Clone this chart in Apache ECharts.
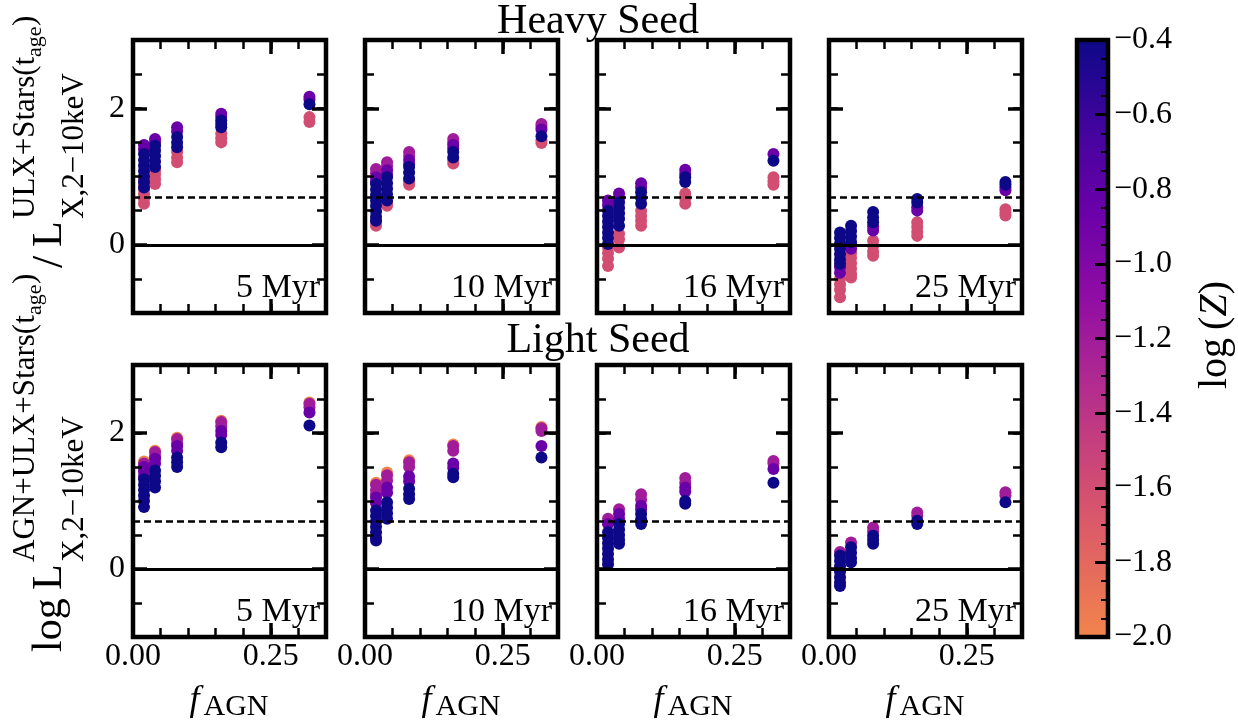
<!DOCTYPE html>
<html>
<head>
<meta charset="utf-8">
<title>AGN X-ray excess vs f_AGN</title>
<script src="https://cdn.jsdelivr.net/npm/echarts@6.0.0/dist/echarts.min.js"></script>
<style>
  html, body { margin: 0; padding: 0; background: #fff; }
  #chart { width: 1238px; height: 721px; }
</style>
</head>
<body>
<div id="chart"></div>
<script>
// AGN fraction of each model column
const fAGN = [0.02, 0.04, 0.08, 0.16, 0.32];

// one row per metallicity: [log Z, values at fAGN 0.02, 0.04, 0.08, 0.16, 0.32]
// values = log L_X(AGN+ULX+Stars) / L_X(ULX+Stars)
const heavy5Myr = [
  [-1.6, [0.60, 0.67, 0.74, 0.81, 0.88, 0.95], [0.89, 0.96, 1.03, 1.09], [1.21, 1.28, 1.36], [1.50, 1.56, 1.63], [1.80, 1.87]],
  [-0.85, [1.46, 1.40], [1.55, 1.50], [1.72, 1.66], [1.92, 1.87], [2.17, 2.13]],
  [-0.4, [0.84, 0.92, 1.00, 1.08, 1.16, 1.24, 1.33], [1.14, 1.22, 1.30, 1.38, 1.45], [1.43, 1.50, 1.58], [1.72, 1.77, 1.82], [2.06]]
];
const heavy10Myr = [
  [-1.6, [0.28, 0.34], [0.57, 0.62], [0.88, 0.93], [1.19, 1.24], [1.49, 1.53]],
  [-1.2, [1.11, 1.05], [1.21, 1.15], [1.36, 1.30], [1.55, 1.50], [1.77, 1.73]],
  [-0.85, [0.99, 0.93], [1.09, 1.03], [1.24, 1.18], [1.46, 1.41], [1.69]],
  [-0.4, [0.89, 0.81, 0.73, 0.65, 0.57, 0.49, 0.41, 0.35], [0.99, 0.90, 0.82, 0.74, 0.65], [1.14, 1.06, 0.97], [1.36, 1.28], [1.59]]
];
const heavy16Myr = [
  [-1.6, [-0.04, -0.12, -0.20, -0.31], [0.16, 0.08, -0.04], [0.50, 0.42, 0.35, 0.28], [0.75, 0.68, 0.60], [0.99, 0.93, 0.88]],
  [-0.85, [0.65, 0.58], [0.75, 0.68], [0.90, 0.84], [1.10, 1.04], [1.33]],
  [-0.4, [0.50, 0.42, 0.34, 0.26, 0.18, 0.10, 0.01], [0.62, 0.54, 0.46, 0.38, 0.28], [0.77, 0.69, 0.60], [0.99, 0.92], [1.23]]
];
const heavy25Myr = [
  [-1.6, [-0.50, -0.58, -0.66, -0.77], [-0.12, -0.19, -0.27, -0.35, -0.43, -0.48], [0.06, -0.02, -0.10, -0.16], [0.33, 0.26, 0.19, 0.13], [0.52, 0.47, 0.43]],
  [-0.85, [-0.41, -0.33], [-0.06, 0.00], [0.21, 0.27], [0.50, 0.55], [0.80, 0.84]],
  [-0.4, [0.18, 0.10, 0.02, -0.06, -0.14, -0.22, -0.28], [0.28, 0.20, 0.12, 0.04], [0.48, 0.40, 0.33], [0.67, 0.62], [0.92, 0.88]]
];
const light5Myr = [
  [-2.0, [1.58], [1.74], [1.93], [2.18], [2.45]],
  [-1.2, [1.55, 1.48], [1.72, 1.66], [1.91, 1.85], [2.16, 2.10], [2.43, 2.38]],
  [-0.85, [1.50, 1.43, 1.36], [1.62, 1.55], [1.81, 1.74], [2.03, 1.97], [2.30]],
  [-0.4, [1.32, 1.24, 1.16, 1.08, 1.00, 0.91], [1.45, 1.37, 1.29, 1.20], [1.64, 1.57, 1.50], [1.86, 1.79], [2.11]]
];
const light10Myr = [
  [-2.0, [1.27], [1.42], [1.60], [1.83], [2.09]],
  [-1.2, [1.24, 1.16, 1.10], [1.38, 1.30], [1.57, 1.50], [1.81, 1.74], [2.07, 2.03]],
  [-0.85, [1.05, 0.97], [1.20, 1.12], [1.36, 1.29], [1.55, 1.49], [1.81]],
  [-0.4, [0.86, 0.78, 0.70, 0.62, 0.54, 0.46, 0.42], [0.98, 0.90, 0.82, 0.74], [1.18, 1.10, 1.03], [1.40, 1.35], [1.64]]
];
const light16Myr = [
  [-1.2, [0.74], [0.88], [1.10, 1.02], [1.34, 1.27], [1.59, 1.55]],
  [-0.85, [0.66], [0.81, 0.74], [0.93, 0.88], [1.20, 1.14], [1.47]],
  [-0.4, [0.54, 0.46, 0.38, 0.30, 0.22, 0.14, 0.07], [0.66, 0.58, 0.50, 0.43, 0.37], [0.81, 0.73, 0.66], [1.00, 0.96], [1.27]]
];
const light25Myr = [
  [-1.2, [0.25], [0.39], [0.61, 0.55], [0.83, 0.78], [1.13, 1.08]],
  [-0.4, [0.20, 0.12, 0.04, -0.04, -0.12, -0.20, -0.25], [0.32, 0.24, 0.16, 0.10], [0.49, 0.43, 0.37], [0.71, 0.66], [0.98]]
];

const panels = [heavy5Myr, heavy10Myr, heavy16Myr, heavy25Myr, light5Myr, light10Myr, light16Myr, light25Myr];
const ages = ['5 Myr', '10 Myr', '16 Myr', '25 Myr'];
const rowTitles = ['Heavy Seed', 'Light Seed'];

// tick values
const xLabels = [0, 0.25];
const xMajor = [0.25];
const yMajor = [0, 2];
const xRange = [0, 0.35];
const yRange = [-1, 3];
const solidLevel = 0;
const dashedLevel = 0.7;

// reversed plasma, cut at the orange end
const zColors = ['#f2844b', '#e16462', '#cc4778', '#b12a90', '#8f0da4', '#6a00a8', '#41049d', '#0d0887'];
const zMin = -2.0, zMax = -0.4;

const FONT = 'Liberation Serif';
const colLeft = [133, 365, 597, 829];
const rowTop = [40, 365];
const rowH = [273, 272];
const W = 193;

const chart = echarts.init(document.getElementById('chart'));

function minus(v, d) {
  return (v < 0 ? '\u2212' : '') + Math.abs(v).toFixed(d);
}

// tick-only axis; it sits where the helper axis `zeroAt` has its zero (a frame edge)
function tickAxis(g, pos, major, min, max, zeroAt) {
  return {
    gridIndex: g, type: 'value', position: pos, min: min, max: max, z: 10,
    axisLine: { show: false, onZeroAxisIndex: zeroAt },
    splitLine: { show: false },
    axisTick: { show: true, inside: true, length: major ? 14 : 9,
      lineStyle: { color: '#000', width: major ? 3.5 : 2.5 } },
    axisLabel: { show: false }
  };
}
// hidden helper axis whose zero lies on one edge of the frame
function edgeAxis(g, min, max) {
  return { gridIndex: g, type: 'value', min: min, max: max, show: false };
}

const grid = [], xAxis = [], yAxis = [], series = [], graphic = [];
const scatterIdx = [];

panels.forEach(function (groups, g) {
  const row = Math.floor(g / 4), col = g % 4;
  grid.push({ left: colLeft[col], top: rowTop[row], width: W, height: rowH[row],
    show: true, borderColor: '#000', borderWidth: 4.5, backgroundColor: 'transparent' });

  const x0 = xAxis.length, y0 = yAxis.length;
  // helper axes: zero at left / right / bottom / top edge
  const xLeftZero = x0 + 4, xRightZero = x0 + 5, yBottomZero = y0 + 4, yTopZero = y0 + 5;

  const xb = tickAxis(g, 'bottom', true, xRange[0], xRange[1], yBottomZero);
  xb.axisTick.customValues = xMajor;
  if (row === 1) {
    xb.axisLabel = { show: true, customValues: xLabels, margin: 4, color: '#000',
      fontFamily: FONT, fontSize: 32, formatter: function (v) { return v.toFixed(2); } };
  }
  const xbm = tickAxis(g, 'bottom', false, xRange[0], xRange[1], yBottomZero);
  xbm.interval = 0.05;
  const xt = tickAxis(g, 'top', true, xRange[0], xRange[1], yTopZero);
  xt.axisTick.customValues = xMajor;
  const xtm = tickAxis(g, 'top', false, xRange[0], xRange[1], yTopZero);
  xtm.interval = 0.05;
  xAxis.push(xb, xbm, xt, xtm, edgeAxis(g, 0, 1), edgeAxis(g, -1, 0));

  const yl = tickAxis(g, 'left', true, yRange[0], yRange[1], xLeftZero);
  yl.axisTick.customValues = yMajor;
  if (col === 0) {
    yl.axisLabel = { show: true, customValues: yMajor, margin: 8, color: '#000',
      fontFamily: FONT, fontSize: 32, formatter: function (v) { return String(v); } };
  }
  const ylm = tickAxis(g, 'left', false, yRange[0], yRange[1], xLeftZero);
  ylm.interval = 0.5;
  const yr = tickAxis(g, 'right', true, yRange[0], yRange[1], xRightZero);
  yr.axisTick.customValues = yMajor;
  const yrm = tickAxis(g, 'right', false, yRange[0], yRange[1], xRightZero);
  yrm.interval = 0.5;
  yAxis.push(yl, ylm, yr, yrm, edgeAxis(g, 0, 1), edgeAxis(g, -1, 0));

  groups.forEach(function (grp, k) {
    const z = grp[0];
    const data = [];
    grp.slice(1).forEach(function (ys, c) {
      ys.forEach(function (y) { data.push([fAGN[c], y, z]); });
    });
    const s = { type: 'scatter', xAxisIndex: x0, yAxisIndex: y0, data: data,
      symbol: 'circle', symbolSize: 12, silent: true, itemStyle: { opacity: 1 } };
    if (k === 0) {
      s.markLine = { silent: true, symbol: 'none', label: { show: false },
        data: [
          { yAxis: solidLevel, lineStyle: { type: 'solid', width: 3, color: '#000' } },
          { yAxis: dashedLevel, lineStyle: { type: [7, 4], width: 2.6, color: '#000' } }
        ] };
    }
    scatterIdx.push(series.length);
    series.push(s);
  });

  // age label in the lower right corner
  graphic.push({ type: 'text', z: 50,
    x: colLeft[col] + W - 6, y: rowTop[row] + rowH[row] - 25,
    style: { text: ages[col], font: '34px "' + FONT + '"', fill: '#000',
      align: 'right', verticalAlign: 'middle' } });

  // f_AGN axis title under the lower row
  if (row === 1) {
    const cx = colLeft[col] + W / 2;
    graphic.push({ type: 'text', x: cx - 40, y: 701,
      style: { text: 'f', font: 'italic 36px "' + FONT + '"', fill: '#000', align: 'left', verticalAlign: 'middle' } });
    graphic.push({ type: 'text', x: cx - 26, y: 707,
      style: { text: 'AGN', font: '30px "' + FONT + '"', fill: '#000', align: 'left', verticalAlign: 'middle' } });
  }
});

// colour bar axes: hidden x axis has its zero on the right edge
const cb = { left: 1077, top: 40, width: 31, height: 597 };
const cbGrid = grid.length;
grid.push({ left: cb.left, top: cb.top, width: cb.width, height: cb.height, show: false });
const cbX = xAxis.length;
xAxis.push(edgeAxis(cbGrid, -1, 0));
yAxis.push({ gridIndex: cbGrid, type: 'value', position: 'right', min: zMin, max: zMax, interval: 0.2, z: 10,
  axisLine: { show: false, onZeroAxisIndex: cbX }, splitLine: { show: false },
  axisTick: { show: true, inside: true, length: 13, lineStyle: { color: '#000', width: 3 } },
  axisLabel: { margin: 6, color: '#000', fontFamily: FONT, fontSize: 32,
    formatter: function (v) { return minus(v, 1); } } });
yAxis.push({ gridIndex: cbGrid, type: 'value', position: 'right', min: zMin, max: zMax, interval: 0.05, z: 10,
  axisLine: { show: false, onZeroAxisIndex: cbX }, splitLine: { show: false },
  axisTick: { show: true, inside: true, length: 7, lineStyle: { color: '#000', width: 2 } },
  axisLabel: { show: false } });

graphic.push({ type: 'rect', z: 100, shape: { x: cb.left, y: cb.top, width: cb.width, height: cb.height },
  style: { fill: 'none', stroke: '#000', lineWidth: 4.5 } });

graphic.push({ type: 'text', x: 1215, y: 335, rotation: Math.PI / 2,
  style: { text: '{a|log\u2009(}{b|Z}{a|)}', align: 'center', verticalAlign: 'middle', fill: '#000',
    rich: { a: { fontSize: 40, fontFamily: FONT, fill: '#000' },
            b: { fontSize: 40, fontFamily: FONT, fontStyle: 'italic', fill: '#000' } } } });

// row titles
graphic.push({ type: 'text', x: 598, y: 22,
  style: { text: rowTitles[0], font: '42px "' + FONT + '"', fill: '#000', align: 'center', verticalAlign: 'middle' } });
graphic.push({ type: 'text', x: 598, y: 341,
  style: { text: rowTitles[1], font: '42px "' + FONT + '"', fill: '#000', align: 'center', verticalAlign: 'middle' } });

// shared y-axis title, written bottom to top
function t(lx, ly, text, size) {
  return { type: 'text', x: lx, y: ly,
    style: { text: text, font: size + 'px "' + FONT + '"', fill: '#000',
      align: 'left', verticalAlign: 'middle' } };
}
graphic.push({ type: 'group', x: 0, y: 652, rotation: Math.PI / 2, children: [
  t(0, 50, 'log', 42),
  t(62, 50, 'L', 42),
  t(90, 26, 'AGN+ULX+Stars(t', 31),
  t(337, 35, 'age', 22),
  t(368, 26, ')', 31),
  t(90, 75, 'X,2\u221210keV', 31),
  t(384, 50, '/', 44),
  t(405, 50, 'L', 42),
  t(433, 26, 'ULX+Stars(t', 31),
  t(595, 35, 'age', 22),
  t(626, 26, ')', 31),
  t(433, 75, 'X,2\u221210keV', 31)
] });

chart.setOption({
  animation: false,
  backgroundColor: '#fff',
  grid: grid,
  xAxis: xAxis,
  yAxis: yAxis,
  visualMap: {
    type: 'continuous', min: zMin, max: zMax, dimension: 2,
    seriesIndex: scatterIdx,
    inRange: { color: zColors },
    left: cb.left, top: cb.top, itemWidth: cb.width, itemHeight: cb.height,
    padding: 0, calculable: false, hoverLink: false
  },
  series: series,
  graphic: graphic
});
</script>
</body>
</html>
